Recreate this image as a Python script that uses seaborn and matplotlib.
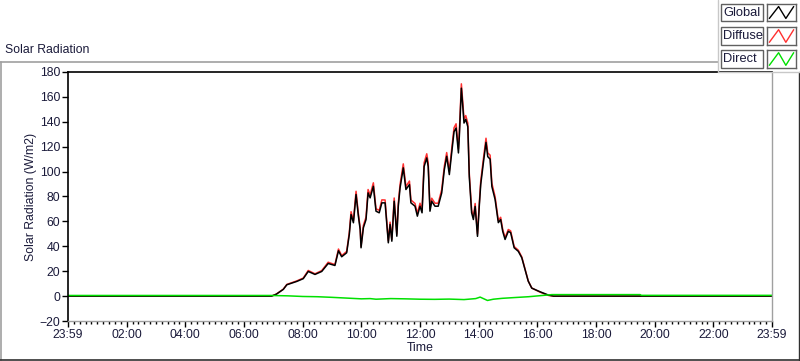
import matplotlib
matplotlib.use("Agg")
import matplotlib.pyplot as plt
import seaborn as sns
import pandas as pd
from matplotlib.lines import Line2D
from matplotlib.patches import Rectangle

# ---------------- data (hours since 23:59 of previous day) ----------------
glob_t = [0, 6.94, 7.1, 7.34, 7.46, 7.80, 8.02, 8.19, 8.42, 8.65, 8.87, 9.10, 9.22, 9.33,
          9.50, 9.59, 9.65, 9.73, 9.82, 9.90, 9.96, 9.99, 10.07, 10.16, 10.23, 10.30, 10.41,
          10.50, 10.61, 10.70, 10.81, 10.92, 10.98, 11.04, 11.12, 11.21, 11.26, 11.32, 11.43,
          11.52, 11.64, 11.69, 11.83, 11.91, 12.00, 12.07, 12.14, 12.23, 12.28, 12.34, 12.40,
          12.51, 12.62, 12.74, 12.83, 12.91, 13.00, 13.08, 13.16, 13.23, 13.31, 13.34, 13.41,
          13.46, 13.50, 13.56, 13.63, 13.68, 13.76, 13.82, 13.88, 13.96, 14.02, 14.07, 14.16,
          14.25, 14.31, 14.39, 14.45, 14.56, 14.67, 14.75, 14.82, 14.90, 15.01, 15.09, 15.21,
          15.35, 15.47, 15.58, 15.69, 15.81, 16.09, 16.38, 16.55, 24]
global_v = [0, 0, 1.5, 5.4, 9.1, 11.8, 14, 19.8, 17.4, 19.8, 26.2, 24.6, 36.4, 31.6,
            34.8, 49.5, 65.5, 58.9, 81.6, 64.2, 53.5, 38.8, 54.9, 61.5, 82.9, 78.9, 88.2,
            68.2, 66.9, 74.9, 74.9, 42.8, 57.5, 44.1, 76.2, 48.1, 72.2, 86.9, 103,
            85.6, 89.6, 74.9, 72.2, 64.2, 72.2, 66.9, 104, 111, 104, 68.2, 76.2,
            72.2, 72.2, 82.9, 101.6, 112.3, 97.6, 115, 132, 135, 115, 128, 167,
            152, 139, 142, 136, 96, 67, 61.5, 72, 48, 72, 89.6, 107,
            123.5, 112, 110, 88, 77.6, 59, 61.5, 52, 45.5, 52, 51, 38.8,
            36, 30.8, 21.4, 12, 6.4, 3.5, 0.8, 0, 0]
diffuse_v = [0, 0, 1.6, 5.6, 9.4, 12.2, 14.5, 20.6, 17.9, 20.5, 27.2, 25.3, 37.8, 32.5,
             35.9, 51.2, 67.8, 60.5, 84.2, 66.0, 55.0, 40.0, 56.8, 63.4, 85.6, 81.2, 91.0,
             70.1, 68.9, 77.3, 77.2, 44.3, 59.4, 45.6, 78.8, 49.8, 74.6, 89.6, 106.2,
             88.0, 92.4, 77.2, 74.4, 66.3, 74.6, 69.0, 107.0, 114.3, 107.0, 70.4, 78.6,
             74.6, 74.6, 85.5, 104.4, 115.3, 100.4, 118.1, 135.2, 138.4, 118.1, 131.0, 170.5,
             155.3, 142.0, 145.0, 138.9, 98.6, 69.2, 63.6, 74.4, 49.8, 74.2, 92.3, 110.0,
             126.8, 115.0, 113.2, 90.6, 79.8, 60.8, 63.3, 53.6, 47.0, 53.5, 52.4, 39.8,
             36.9, 31.5, 21.8, 12.2, 6.5, 3.2, 0.5, 0, 0]

dir_t = [0, 6.9, 7.5, 8.0, 8.5, 9.0, 9.5, 10.0, 10.3, 10.5, 11.0, 11.5, 12.0, 12.5,
         13.0, 13.5, 13.9, 14.05, 14.3, 14.5, 14.8, 15.2, 15.7, 16.5, 19.5, 19.55, 24]
direct_v = [0.5, 0.5, 0.2, -0.3, -0.5, -1.0, -1.6, -2.2, -2.0, -2.5, -2.0, -2.2, -2.5,
            -2.6, -2.4, -2.8, -2.0, -0.8, -3.5, -2.5, -1.8, -1.2, -0.5, 1.2, 1.2, 0.6, 0.6]

tick_labels = ["23:59", "02:00", "04:00", "06:00", "08:00", "10:00", "12:00",
               "14:00", "16:00", "18:00", "20:00", "22:00", "23:59"]

df_g = pd.DataFrame({"t": glob_t, "v": global_v})
df_d = pd.DataFrame({"t": glob_t, "v": diffuse_v})
df_r = pd.DataFrame({"t": dir_t, "v": direct_v})

# ---------------- figure ----------------
sns.set_style("white")
plt.rcParams["font.family"] = ["Liberation Sans", "DejaVu Sans"]
txt = "#1a1a3a"

W, H = 800, 361
fig = plt.figure(figsize=(8, 3.61), dpi=100)
ax = fig.add_axes([68 / W, 1 - 321 / H, (772 - 68) / W, (321 - 72) / H])

sns.lineplot(data=df_d, x="t", y="v", ax=ax, color="#ff3030", linewidth=1.1)
sns.lineplot(data=df_g, x="t", y="v", ax=ax, color="black", linewidth=1.1)
sns.lineplot(data=df_r, x="t", y="v", ax=ax, color="#00e000", linewidth=1.1)

ax.set_xlim(0, 24)
ax.set_ylim(-20, 180)
ax.set_xticks(range(0, 25, 2))
ax.set_xticklabels(tick_labels)
ax.set_xticks([i * 0.2 for i in range(121)], minor=True)
ax.set_yticks(range(-20, 181, 20))
ax.tick_params(axis="both", which="major", direction="out", length=4, width=1,
               colors="black", labelcolor=txt, labelsize=8.8, pad=1.5)
ax.tick_params(axis="x", which="minor", direction="out", length=2.5, width=1, colors="black")
ax.tick_params(bottom=True, left=True, which="both")
ax.tick_params(axis="y", which="minor", left=False)
ax.set_xlabel("Time", fontsize=8.8, color=txt, labelpad=1)
ax.set_ylabel("Solar Radiation (W/m2)", fontsize=8.8, color=txt, labelpad=2)
for s in ["left", "top"]:
    ax.spines[s].set_color("black")
    ax.spines[s].set_linewidth(1.2)
for s in ["right", "bottom"]:
    ax.spines[s].set_color("#a0a0a0")
    ax.spines[s].set_linewidth(1.0)

# outer panel frame
def fx(x):
    return x / W

def fy(y):
    return 1 - y / H

fig.add_artist(Line2D([fx(0), fx(718)], [fy(62), fy(62)], color="#a0a0a0", lw=1.2))
fig.add_artist(Line2D([fx(1), fx(1)], [fy(62), fy(360)], color="#a0a0a0", lw=1.2))
fig.add_artist(Line2D([fx(0), fx(800)], [fy(360), fy(360)], color="#303030", lw=1.2))
fig.add_artist(Line2D([fx(799), fx(799)], [fy(72), fy(360)], color="#303030", lw=1.0))
fig.text(fx(5), fy(50), "Solar Radiation", fontsize=8.8, color=txt, va="center", ha="left")

# legend panel
fig.add_artist(Line2D([fx(718), fx(718)], [fy(0), fy(72)], color="#c8c8c8", lw=1.0))
fig.add_artist(Line2D([fx(718), fx(800)], [fy(72), fy(72)], color="#c8c8c8", lw=1.0))
rows = [("Global", "black", 4, 21), ("Diffuse", "#ff3030", 27, 45), ("Direct", "#00e000", 50, 68)]
for label, col, y0, y1 in rows:
    fig.add_artist(Rectangle((fx(721), fy(y1)), fx(763 - 721), fy(y0) - fy(y1),
                             facecolor="white", edgecolor="#606060", lw=1.0))
    fig.text(fx(723), fy((y0 + y1) / 2), label, fontsize=9.3, color=txt,
             va="center", ha="left")
    sax = fig.add_axes([fx(767), fy(y1), fx(796 - 767), fy(y0) - fy(y1)])
    sax.plot([0.08, 0.4, 0.65, 0.92], [0.15, 0.85, 0.15, 0.85], color=col, lw=1.0)
    sax.set_xlim(0, 1)
    sax.set_ylim(0, 1)
    sax.set_xticks([])
    sax.set_yticks([])
    for s in sax.spines.values():
        s.set_color("#606060")
        s.set_linewidth(1.0)

fig.savefig("out.png", dpi=100)
